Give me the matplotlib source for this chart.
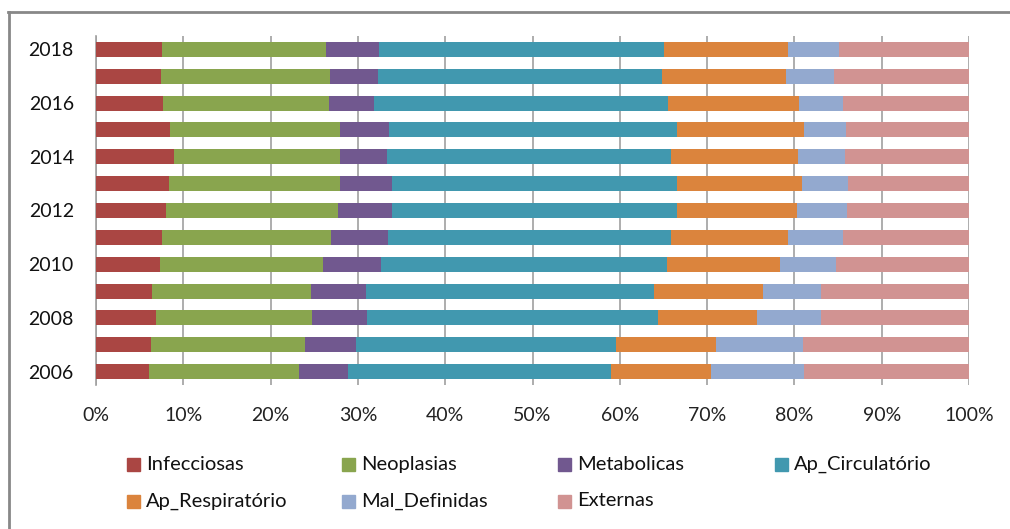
import numpy as np
import matplotlib
matplotlib.use("Agg")
import matplotlib.pyplot as plt
from matplotlib.patches import Rectangle
from matplotlib.lines import Line2D

plt.rcParams['font.family'] = ['Lato', 'DejaVu Sans']

anos = [2006, 2007, 2008, 2009, 2010, 2011, 2012, 2013, 2014, 2015, 2016, 2017, 2018]
categorias = ['Infecciosas', 'Neoplasias', 'Metabolicas', 'Ap_Circulatório',
              'Ap_Respiratório', 'Mal_Definidas', 'Externas']

# shares (%) per year
infecciosas = [6.1, 6.3, 6.9, 6.4, 7.3, 7.6, 8.0, 8.4, 8.9, 8.5, 7.7, 7.5, 7.6]
neoplasias = [17.2, 17.6, 17.8, 18.2, 18.7, 19.3, 19.7, 19.6, 19.0, 19.5, 19.0, 19.3, 18.7]
metabolicas = [5.6, 5.9, 6.3, 6.3, 6.7, 6.6, 6.2, 5.9, 5.4, 5.6, 5.2, 5.5, 6.1]
circulatorio = [30.1, 29.8, 33.4, 33.0, 32.7, 32.4, 32.7, 32.6, 32.6, 33.0, 33.6, 32.5, 32.7]
respiratorio = [11.5, 11.4, 11.3, 12.5, 12.9, 13.4, 13.7, 14.4, 14.5, 14.5, 15.0, 14.2, 14.2]
mal_definidas = [10.6, 10.0, 7.4, 6.6, 6.5, 6.3, 5.7, 5.2, 5.4, 4.8, 5.1, 5.5, 5.8]
externas = [18.9, 19.0, 16.9, 17.0, 15.2, 14.4, 14.0, 13.9, 14.2, 14.1, 14.4, 15.5, 14.9]

series = [infecciosas, neoplasias, metabolicas, circulatorio,
          respiratorio, mal_definidas, externas]
cores = ['#AA4643', '#89A54E', '#71588F', '#4198AF', '#DB843D', '#93A9CF', '#D19392']

W, H = 1010, 529
fig = plt.figure(figsize=(W / 100, H / 100), dpi=100)
ax = fig.add_axes([96/W, 1 - 385/H, (969-96)/W, (385-36)/H])

y = np.arange(len(anos))
tot = np.array([sum(s[i] for s in series) for i in range(len(anos))])
left = np.zeros(len(anos))
for vals, cor, nome in zip(series, cores, categorias):
    v = np.array(vals, dtype=float) / tot * 100
    ax.barh(y, v, left=left, height=0.56, color=cor, label=nome, zorder=3)
    left += v

ax.set_xlim(0, 100)
ax.set_ylim(-0.5, len(anos) - 0.5)
ax.set_xticks(np.arange(0, 101, 10))
ax.set_xticklabels(['%d%%' % t for t in range(0, 101, 10)], fontsize=14, color='#222222')
ax.set_yticks(y)
ax.set_yticklabels([str(a) if a % 2 == 0 else '' for a in anos], fontsize=14, color='#111111')
ax.tick_params(axis='y', length=0, pad=16)
ax.tick_params(axis='x', length=0, pad=16)
ax.grid(axis='x', color='#A0A0A0', linewidth=1.2, zorder=0)
for s in ['top', 'right', 'bottom']:
    ax.spines[s].set_visible(False)
ax.spines['left'].set_color('#A0A0A0')
ax.spines['left'].set_linewidth(1.2)

# legend, laid out row by row like the original
col_x = [127, 342, 558, 775]
row_y = [464.5, 501]
for i, (nome, cor) in enumerate(zip(categorias, cores)):
    r, c = divmod(i, 4)
    x0, yc = col_x[c], row_y[r]
    fig.patches.append(Rectangle((x0/W, 1 - (yc + 6.5)/H), 13/W, 13/H,
                                 transform=fig.transFigure, color=cor))
    fig.text((x0 + 19)/W, 1 - yc/H, nome, fontsize=14.5, va='center', ha='left',
             color='#111111')

# frame: only left and top edges visible
fig.add_artist(Line2D([8.5/W, 8.5/W], [0, 1 - 12/H], transform=fig.transFigure,
                      color='#888888', linewidth=2))
fig.add_artist(Line2D([8/W, 1], [1 - 12/H, 1 - 12/H], transform=fig.transFigure,
                      color='#888888', linewidth=2))

fig.savefig('out.png', dpi=100)
